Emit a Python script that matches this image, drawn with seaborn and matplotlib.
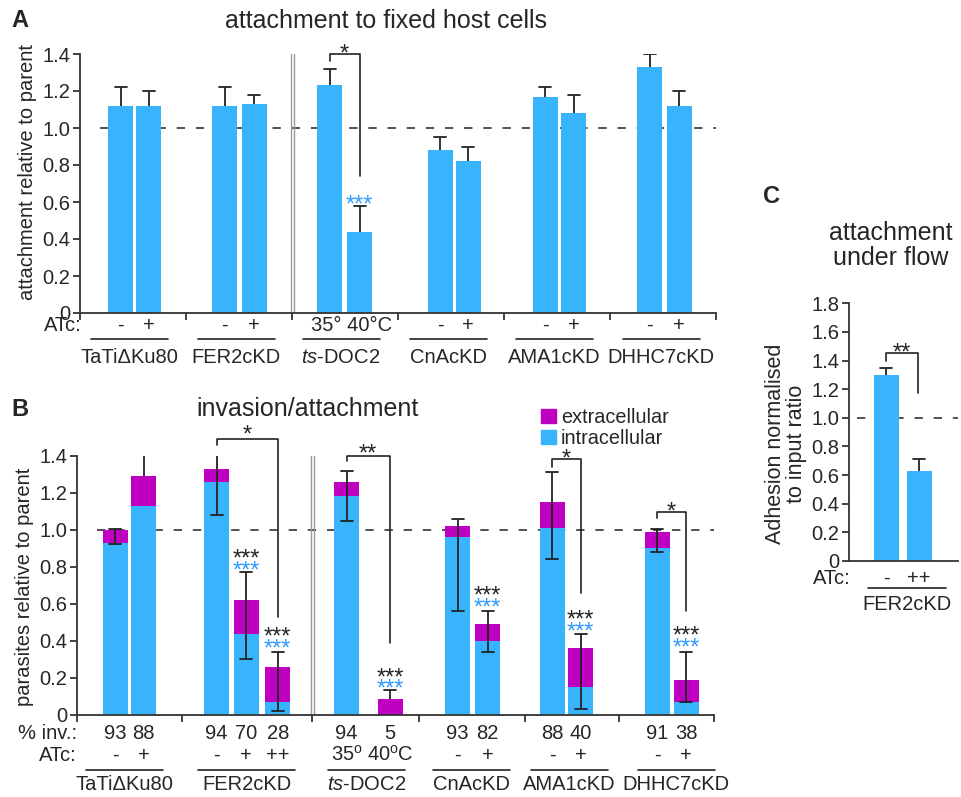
#!/usr/bin/env python3

"""
./plot.py  -> out.png  (attachment / invasion panels A, B, C)
"""

import matplotlib
matplotlib.use("Agg")
import matplotlib.pyplot as plt
import matplotlib.transforms as mtransforms
from matplotlib.patches import Patch
import numpy as np
import seaborn as sns

sns.set_style("ticks")
plt.rcParams["font.family"] = ["Liberation Sans", "DejaVu Sans"]
plt.rcParams["mathtext.fontset"] = "custom"
plt.rcParams["mathtext.rm"] = "Liberation Sans"
plt.rcParams["mathtext.it"] = "Liberation Sans:italic"

BLUE = "#38b4fd"
MAGENTA = "#c000c0"
STAR_BLUE = "#2f9bff"
INK = "#222222"
GREY = "#9a9a9a"

# ---------------- data ----------------
# A: attachment to fixed host cells
strains_a = ["TaTiΔKu80", "FER2cKD", "$\\it{ts}$-DOC2", "CnAcKD", "AMA1cKD", "DHHC7cKD"]
atc_a = ["-", "+", "-", "+", "", "", "-", "+", "-", "+", "-", "+"]
attach = [1.12, 1.12, 1.12, 1.13, 1.23, 0.44, 0.88, 0.82, 1.17, 1.08, 1.33, 1.12]
attach_hi = [1.22, 1.20, 1.22, 1.18, 1.32, 0.58, 0.95, 0.90, 1.22, 1.18, 1.40, 1.20]

# B: invasion/attachment (stacked: intracellular + extracellular)
strains_b = ["TaTiΔKu80", "FER2cKD", "$\\it{ts}$-DOC2", "CnAcKD", "AMA1cKD", "DHHC7cKD"]
pct_inv = ["93", "88", "94", "70", "28", "94", "5", "93", "82", "88", "40", "91", "38"]
atc_b = ["-", "+", "-", "+", "++", "35$^{\\rm o}$", "40$^{\\rm o}$C", "-", "+", "-", "+", "-", "+"]
total = [1.00, 1.29, 1.33, 0.62, 0.26, 1.26, 0.085, 1.02, 0.49, 1.15, 0.36, 0.99, 0.19]
intra = [0.93, 1.13, 1.26, 0.44, 0.07, 1.18, 0.0, 0.96, 0.40, 1.01, 0.15, 0.90, 0.07]
inv_hi = [1.005, 1.41, 1.41, 0.77, 0.34, 1.32, 0.135, 1.06, 0.56, 1.31, 0.44, 1.005, 0.34]
inv_lo = [0.925, 1.29, 1.08, 0.30, 0.02, 1.05, 0.085, 0.56, 0.34, 0.84, 0.03, 0.88, 0.07]

# C: attachment under flow
atc_c = ["-", "++"]
flow = [1.30, 0.63]
flow_hi = [1.35, 0.71]

# ---------------- layout (figure pixels) ----------------
W, H = 961, 797
xa = [120.5, 148.5, 224.5, 254, 329.5, 359.5, 440, 468, 545, 573.5, 649.5, 679]
xb = [115, 143.7, 216.7, 246, 277.7, 346.5, 390, 457.5, 487.7, 552, 580.5, 657.3, 686]
xc = [886, 919]
bounds_a = [80, 186, 292, 398, 504, 610, 716]
bounds_b = [77, 182, 312, 419, 525, 619, 714]
under_a = [129.5, 236, 341, 448.7, 554, 661]
under_b = [124.7, 246.5, 366.5, 471.7, 569.5, 676.3]
BAR_W = 25


def box(l, t, r, b):
    return [l / W, 1 - b / H, (r - l) / W, (b - t) / H]


def fy(py):
    return 1 - py / H


fig = plt.figure(figsize=(W / 100, H / 100), dpi=100)
ax_a = fig.add_axes(box(80, 54, 716, 313))
ax_b = fig.add_axes(box(77, 455.7, 714, 715))
ax_c = fig.add_axes(box(849, 303.3, 958, 561))


def bars(ax, xs, ys, color):
    w = BAR_W / np.min(np.diff(sorted(xs)))
    sns.barplot(x=xs, y=ys, native_scale=True, orient="x", width=w, color=color,
                saturation=1, errorbar=None, linewidth=0, ax=ax, zorder=2)


def whiskers(ax, xs, tops, his, los, cap=6):
    for x, top, hi, lo in zip(xs, tops, his, los):
        ax.plot([x, x], [lo, hi], color=INK, lw=1.3, zorder=4, solid_capstyle="butt")
        ax.plot([x - cap, x + cap], [hi, hi], color=INK, lw=1.3, zorder=4)
        if lo < top - 0.01:
            ax.plot([x - cap, x + cap], [lo, lo], color=INK, lw=1.3, zorder=4)


def star(ax, x, y, s, color=INK):
    ax.annotate(s, (x, y), xytext=(0, -9.8), textcoords="offset points", ha="center",
                va="baseline", fontsize=17, color=color, annotation_clip=False)


def bracket(ax, x1, x2, y1, ytop, y2, s, ys):
    ax.plot([x1, x1, x2, x2], [y1, ytop, ytop, y2], color=INK, lw=1.2, clip_on=False, zorder=5)
    star(ax, (x1 + x2) / 2, ys, s)


def style(ax, xlim, ymax, bounds=None):
    ax.set_xlim(*xlim)
    ax.set_ylim(0, ymax)
    ticks = np.round(np.arange(0, ymax + 0.01, 0.2), 1)
    ax.set_yticks(ticks)
    ax.set_yticklabels(["0"] + [f"{t:.1f}" for t in ticks[1:]], fontsize=14.5)
    ax.set_xticks(bounds if bounds else [])
    ax.set_xticklabels([""] * len(bounds) if bounds else [])
    ax.tick_params(axis="both", direction="out", length=5, width=1.3, color="#333333", pad=2)
    sns.despine(ax=ax)
    for sp in ("left", "bottom"):
        ax.spines[sp].set_color("#333333")
        ax.spines[sp].set_linewidth(1.3)
    ax.set_xlabel("")
    ax.set_ylabel("")


def dashed(ax, x0, x1):
    ax.plot([x0, x1], [1, 1], color="#333333", lw=1.2, ls=(0, (5, 6.5)), zorder=1)


def double_line(ax, x, ymax):
    for dx in (-1.5, 1.5):
        ax.plot([x + dx, x + dx], [0, ymax], color=GREY, lw=1, zorder=1)


def row(ax, xs, labels, py, **kw):
    tr = mtransforms.blended_transform_factory(ax.transData, fig.transFigure)
    for x, s in zip(xs, labels):
        ax.text(x, fy(py), s, transform=tr, ha="center", va="baseline", fontsize=14.5, **kw)


def underline(ax, centers, halfw, py):
    tr = mtransforms.blended_transform_factory(ax.transData, fig.transFigure)
    for c, hw in zip(centers, halfw):
        ax.plot([c - hw, c + hw], [fy(py), fy(py)], transform=tr, color=INK, lw=1.2,
                clip_on=False)


# ---------------- panel A ----------------
dashed(ax_a, 100, 716)
bars(ax_a, xa, attach, BLUE)
whiskers(ax_a, xa, attach, attach_hi, attach)
double_line(ax_a, 292, 1.4)
style(ax_a, (80, 716), 1.4, bounds_a)
bracket(ax_a, xa[4], xa[5], 1.36, 1.40, 0.74, "*", 1.44)
star(ax_a, xa[5], 0.62, "***", STAR_BLUE)
fig.text(82 / W, fy(331), "ATc:", ha="right", va="baseline", fontsize=14.5)
row(ax_a, xa[:4] + xa[6:], atc_a[:4] + atc_a[6:], 331)
row(ax_a, [352], ["35° 40°C"], 331)
underline(ax_a, under_a, [38.5] * 6, 339)
row(ax_a, under_a, strains_a, 363)
fig.text(28 / W, fy(172), "attachment relative to parent", rotation=90, ha="center",
         va="center", fontsize=14.5)
fig.text(386 / W, fy(28), "attachment to fixed host cells", ha="center", va="baseline",
         fontsize=18)
fig.text(11 / W, fy(27), "A", fontsize=17, fontweight="bold", va="baseline")

# ---------------- panel B ----------------
dashed(ax_b, 97, 714)
bars(ax_b, xb, total, MAGENTA)
bars(ax_b, xb, intra, BLUE)
whiskers(ax_b, xb, total, inv_hi, inv_lo)
double_line(ax_b, 312, 1.4)
style(ax_b, (77, 714), 1.4, bounds_b)
bracket(ax_b, xb[2], xb[4], 1.46, 1.49, 0.53, "*", 1.55)
bracket(ax_b, xb[5], xb[6], 1.37, 1.40, 0.39, "**", 1.45)
bracket(ax_b, xb[9], xb[10], 1.34, 1.38, 0.66, "*", 1.42)
bracket(ax_b, xb[11], xb[12], 1.063, 1.094, 0.56, "*", 1.135)
kd = [3, 4, 6, 8, 10, 12]
black_y = [0.88, 0.46, 0.24, 0.68, 0.55, 0.463]
for i, yb in zip(kd, black_y):
    star(ax_b, xb[i], yb, "***")
    star(ax_b, xb[i], yb - 0.063, "***", STAR_BLUE)
fig.text(77 / W, fy(739), "% inv.:", ha="right", va="baseline", fontsize=14.5)
fig.text(77 / W, fy(761), "ATc:", ha="right", va="baseline", fontsize=14.5)
row(ax_b, xb, pct_inv, 739)
row(ax_b, xb, atc_b, 761)
underline(ax_b, under_b, [38.5, 48.5, 38.5, 38.5, 38.5, 38.5], 770)
row(ax_b, under_b, strains_b, 790)
fig.text(25 / W, fy(587), "parasites relative to parent", rotation=90, ha="center",
         va="center", fontsize=14.5)
fig.text(307 / W, fy(416), "invasion/attachment", ha="center", va="baseline", fontsize=18)
fig.text(11 / W, fy(416), "B", fontsize=17, fontweight="bold", va="baseline")
fig.legend(handles=[Patch(color=MAGENTA, label="extracellular"),
                    Patch(color=BLUE, label="intracellular")],
           loc="upper left", bbox_to_anchor=(541 / W, fy(408)), frameon=False,
           fontsize=14.3, handlelength=0.75, handleheight=0.75, handletextpad=0.25,
           labelspacing=0.1, borderpad=0, borderaxespad=0)

# ---------------- panel C ----------------
dashed(ax_c, 857, 958)
bars(ax_c, xc, flow, BLUE)
whiskers(ax_c, xc, flow, flow_hi, flow)
style(ax_c, (849, 958), 1.8)
bracket(ax_c, xc[0], xc[1] - 1, 1.40, 1.45, 1.17, "**", 1.50)
fig.text(851 / W, fy(584), "ATc:", ha="right", va="baseline", fontsize=14.5)
row(ax_c, xc, atc_c, 584)
underline(ax_c, [907], [39], 588)
row(ax_c, [907], ["FER2cKD"], 610)
fig.text(786 / W, fy(444), "Adhesion normalised\nto input ratio", rotation=90,
         ha="center", va="center", fontsize=15.5, linespacing=1.0)
fig.text(891 / W, fy(240), "attachment", ha="center", va="baseline", fontsize=18)
fig.text(891 / W, fy(265), "under flow", ha="center", va="baseline", fontsize=18)
fig.text(763 / W, fy(203), "C", fontsize=17, fontweight="bold", va="baseline")

fig.savefig("out.png", dpi=100)
plt.close(fig)
